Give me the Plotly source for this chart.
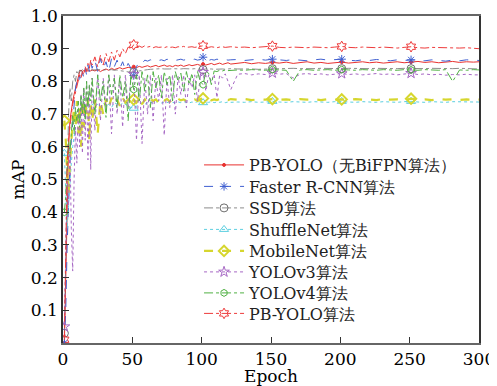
import plotly.graph_objects as go

# Sampled epochs (dense early, sparser on plateau)
epochs = list(range(1, 22)) + list(range(23, 122, 2)) + list(range(126, 297, 5)) + [300]
marker_epochs = [1, 51, 101, 151, 201, 251]

names = ["PB-YOLO（无BiFPN算法）", "Faster R-CNN算法", "SSD算法", "ShuffleNet算法",
         "MobileNet算法", "YOLOv3算法", "YOLOv4算法", "PB-YOLO算法"]

pb_yolo_nobifpn = [
    0.0, 0.2, 0.45, 0.6, 0.68, 0.72, 0.74, 0.76, 0.78, 0.80, 0.82, 0.83, 0.835, 0.83, 0.833, 0.83, 0.835, 0.831, 0.834, 0.832, 0.835,
    0.832, 0.836, 0.83, 0.835, 0.838, 0.834, 0.84, 0.836, 0.838, 0.842,
    0.838, 0.84, 0.843, 0.841, 0.845, 0.842, 0.846, 0.843, 0.845, 0.848,
    0.844, 0.846, 0.849, 0.845, 0.847, 0.85, 0.846, 0.848, 0.845, 0.849,
    0.847, 0.85, 0.846, 0.849, 0.851, 0.848, 0.85, 0.852, 0.849, 0.853,
    0.85, 0.852, 0.855, 0.851, 0.853, 0.856, 0.852, 0.854, 0.857, 0.853,
    0.855, 0.858, 0.854, 0.857, 0.855, 0.858, 0.856, 0.859, 0.855, 0.857,
    0.86, 0.856, 0.858, 0.855, 0.857, 0.859, 0.856, 0.858, 0.86, 0.857,
    0.859, 0.856, 0.858, 0.86, 0.857, 0.859, 0.861, 0.858, 0.86, 0.857,
    0.859, 0.861, 0.858, 0.86, 0.859,
    0.86]

faster_rcnn = [
    0.0, 0.1, 0.3, 0.45, 0.55, 0.62, 0.68, 0.74, 0.78, 0.80, 0.79, 0.82, 0.80, 0.83, 0.81, 0.84, 0.82, 0.85, 0.83, 0.86, 0.84,
    0.865, 0.83, 0.87, 0.84, 0.86, 0.83, 0.87, 0.845, 0.865, 0.84,
    0.86, 0.835, 0.855, 0.84, 0.818, 0.845, 0.86, 0.855, 0.865, 0.862,
    0.866, 0.863, 0.867, 0.864, 0.866, 0.863, 0.868, 0.865, 0.867, 0.864,
    0.866, 0.868, 0.865, 0.867, 0.864, 0.866, 0.868, 0.865, 0.867, 0.874,
    0.866, 0.864, 0.867, 0.865, 0.868, 0.866, 0.864, 0.867, 0.865, 0.866,
    0.867, 0.864, 0.866, 0.868, 0.865, 0.868, 0.866, 0.864, 0.867, 0.865,
    0.863, 0.866, 0.868, 0.865, 0.867, 0.868, 0.865, 0.863, 0.866, 0.864,
    0.867, 0.865, 0.863, 0.866, 0.864, 0.866, 0.865, 0.863, 0.866, 0.864,
    0.862, 0.865, 0.863, 0.866, 0.864,
    0.864]

ssd = [
    0.03, 0.3, 0.55, 0.70, 0.78, 0.74, 0.80, 0.82, 0.80, 0.83, 0.82, 0.835, 0.83, 0.836, 0.834, 0.836, 0.835, 0.836, 0.834, 0.836, 0.835,
    0.836, 0.835, 0.836, 0.834, 0.836, 0.835, 0.836, 0.834, 0.835, 0.833,
    0.831, 0.83, 0.829, 0.828, 0.828, 0.83, 0.832, 0.834, 0.835, 0.836,
    0.837, 0.838, 0.837, 0.838, 0.839, 0.838, 0.837, 0.838, 0.839, 0.838,
    0.837, 0.838, 0.839, 0.838, 0.837, 0.838, 0.839, 0.838, 0.837, 0.836,
    0.838, 0.839, 0.838, 0.837, 0.838, 0.839, 0.838, 0.837, 0.838, 0.839,
    0.838, 0.839, 0.838, 0.837, 0.838, 0.839, 0.838, 0.839, 0.84, 0.839,
    0.838, 0.839, 0.84, 0.839, 0.838, 0.839, 0.84, 0.839, 0.838, 0.839,
    0.84, 0.839, 0.838, 0.839, 0.84, 0.839, 0.838, 0.839, 0.84, 0.839,
    0.838, 0.839, 0.84, 0.839, 0.838,
    0.838]

shufflenet = [
    0.58, 0.45, 0.35, 0.42, 0.5, 0.55, 0.6, 0.64, 0.66, 0.68, 0.70, 0.69, 0.71, 0.70, 0.72, 0.71, 0.72, 0.715, 0.725, 0.72, 0.73,
    0.725, 0.73, 0.72, 0.735, 0.725, 0.73, 0.72, 0.735, 0.73, 0.725,
    0.735, 0.73, 0.725, 0.72, 0.718, 0.725, 0.73, 0.735, 0.73, 0.735,
    0.738, 0.733, 0.736, 0.74, 0.734, 0.737, 0.735, 0.738, 0.736, 0.734,
    0.737, 0.735, 0.738, 0.736, 0.734, 0.737, 0.735, 0.738, 0.736, 0.735,
    0.737, 0.736, 0.738, 0.735, 0.737, 0.736, 0.738, 0.735, 0.737, 0.736,
    0.737, 0.736, 0.738, 0.736, 0.737, 0.739, 0.737, 0.736, 0.738, 0.737,
    0.736, 0.738, 0.737, 0.736, 0.738, 0.739, 0.737, 0.736, 0.738, 0.737,
    0.736, 0.738, 0.737, 0.736, 0.738, 0.739, 0.737, 0.736, 0.738, 0.737,
    0.736, 0.738, 0.737, 0.736, 0.737,
    0.737]

mobilenet = [
    0.68, 0.62, 0.52, 0.46, 0.55, 0.62, 0.68, 0.72, 0.66, 0.74, 0.64, 0.73, 0.60, 0.745, 0.66, 0.74, 0.70, 0.745, 0.62, 0.74, 0.68,
    0.745, 0.64, 0.74, 0.70, 0.745, 0.72, 0.75, 0.73, 0.745, 0.725,
    0.75, 0.735, 0.745, 0.73, 0.745, 0.735, 0.75, 0.73, 0.745, 0.735,
    0.748, 0.74, 0.745, 0.735, 0.748, 0.742, 0.746, 0.738, 0.745, 0.74,
    0.747, 0.742, 0.745, 0.74, 0.746, 0.742, 0.745, 0.74, 0.746, 0.748,
    0.744, 0.746, 0.742, 0.745, 0.743, 0.746, 0.744, 0.745, 0.743, 0.746,
    0.744, 0.746, 0.743, 0.745, 0.744, 0.746, 0.744, 0.745, 0.743, 0.746,
    0.744, 0.745, 0.743, 0.746, 0.744, 0.745, 0.743, 0.746, 0.744, 0.745,
    0.743, 0.746, 0.744, 0.745, 0.743, 0.747, 0.744, 0.745, 0.743, 0.746,
    0.744, 0.745, 0.743, 0.745, 0.744,
    0.744]

yolov3 = [
    0.05, 0.3, 0.5, 0.42, 0.6, 0.35, 0.22, 0.5, 0.66, 0.55, 0.72, 0.6, 0.76, 0.58, 0.78, 0.62, 0.80, 0.56, 0.79, 0.53, 0.81,
    0.65, 0.82, 0.68, 0.81, 0.72, 0.82, 0.64, 0.82, 0.70, 0.81,
    0.66, 0.82, 0.72, 0.81, 0.822, 0.62, 0.82, 0.61, 0.81, 0.70,
    0.82, 0.68, 0.81, 0.74, 0.82, 0.635, 0.81, 0.72, 0.82, 0.70,
    0.815, 0.76, 0.82, 0.72, 0.81, 0.78, 0.82, 0.74, 0.815, 0.828,
    0.77, 0.82, 0.80, 0.822, 0.75, 0.82, 0.81, 0.823, 0.80, 0.775,
    0.822, 0.824, 0.82, 0.823, 0.821, 0.826, 0.822, 0.824, 0.81, 0.822,
    0.824, 0.821, 0.823, 0.82, 0.822, 0.824, 0.821, 0.823, 0.82, 0.822,
    0.824, 0.821, 0.823, 0.82, 0.822, 0.825, 0.821, 0.823, 0.82, 0.822,
    0.819, 0.821, 0.82, 0.822, 0.82,
    0.82]

yolov4 = [
    0.40, 0.45, 0.55, 0.62, 0.58, 0.66, 0.7, 0.64, 0.72, 0.68, 0.74, 0.66, 0.76, 0.7, 0.78, 0.68, 0.80, 0.72, 0.79, 0.74, 0.81,
    0.70, 0.82, 0.74, 0.80, 0.69, 0.82, 0.76, 0.81, 0.72, 0.82,
    0.75, 0.80, 0.68, 0.82, 0.775, 0.82, 0.74, 0.83, 0.77, 0.82,
    0.72, 0.83, 0.78, 0.82, 0.75, 0.83, 0.79, 0.82, 0.74, 0.83,
    0.80, 0.825, 0.77, 0.83, 0.79, 0.825, 0.76, 0.83, 0.80, 0.79,
    0.83, 0.825, 0.79, 0.832, 0.83, 0.834, 0.832, 0.835, 0.833, 0.834,
    0.835, 0.834, 0.836, 0.835, 0.834, 0.836, 0.835, 0.834, 0.80, 0.835,
    0.836, 0.834, 0.835, 0.836, 0.834, 0.836, 0.835, 0.834, 0.836, 0.835,
    0.834, 0.836, 0.835, 0.834, 0.836, 0.835, 0.834, 0.836, 0.835, 0.834,
    0.836, 0.80, 0.835, 0.834, 0.836,
    0.835]

pb_yolo = [
    0.01, 0.35, 0.55, 0.62, 0.67, 0.70, 0.73, 0.75, 0.77, 0.79, 0.80, 0.82, 0.81, 0.83, 0.82, 0.845, 0.83, 0.855, 0.84, 0.865, 0.85,
    0.875, 0.845, 0.88, 0.85, 0.885, 0.86, 0.89, 0.865, 0.895, 0.875,
    0.90, 0.885, 0.905, 0.90, 0.912, 0.906, 0.908, 0.904, 0.909, 0.905,
    0.907, 0.903, 0.906, 0.904, 0.905, 0.903, 0.906, 0.904, 0.905, 0.903,
    0.906, 0.905, 0.907, 0.904, 0.905, 0.906, 0.904, 0.905, 0.906, 0.909,
    0.905, 0.904, 0.906, 0.905, 0.903, 0.905, 0.906, 0.904, 0.905, 0.906,
    0.904, 0.905, 0.903, 0.905, 0.906, 0.908, 0.904, 0.903, 0.905, 0.904,
    0.903, 0.905, 0.904, 0.903, 0.905, 0.907, 0.904, 0.903, 0.905, 0.904,
    0.903, 0.905, 0.904, 0.902, 0.904, 0.906, 0.903, 0.902, 0.904, 0.903,
    0.902, 0.903, 0.902, 0.903, 0.901,
    0.900]

series = [pb_yolo_nobifpn, faster_rcnn, ssd, shufflenet, mobilenet, yolov3, yolov4, pb_yolo]
for s in series:
    assert len(s) == len(epochs), (len(s), len(epochs))

colors = ["#e8312f", "#3f5fd0", "#6e6e6e", "#5ccfe0", "#d6d62e", "#a667c4", "#4fb043", "#ee3b3b"]
dashes = ["solid", "dash", "dashdot", "dot", "dash", "dot", "dashdot", "dashdot"]
widths = [1.0, 1.0, 0.8, 1.0, 2.2, 1.0, 1.0, 1.0]
symbols = ["circle", "asterisk-open", "circle-open", "triangle-up-open", "diamond-open",
           "star-open", "hexagon-open", "hexagram-open"]
msizes = [3, 7, 8, 8, 8, 8, 7, 8]

font_family = "DejaVu Serif"
legend_font = dict(family=font_family, size=16, color="#222")

# One legend per entry so the row spacing can match the reference.
# Plot area spans screen y 16..343 (327 px).
legend_rows_px = [165, 186.5, 208, 229.5, 251, 272, 293, 313.5]

fig = go.Figure()
idx = [epochs.index(e) for e in marker_epochs]
legend_layouts = {}
for k, (name, s, c, d, w, sym, ms) in enumerate(zip(names, series, colors, dashes, widths, symbols, msizes)):
    lname = "legend" if k == 0 else f"legend{k + 1}"
    mline = dict(color=c, width=2 if sym == "diamond-open" else 1)
    fig.add_trace(go.Scatter(x=epochs, y=s, mode="lines", line=dict(color=c, dash=d, width=w),
                             showlegend=False, hoverinfo="skip"))
    fig.add_trace(go.Scatter(x=[epochs[i] for i in idx], y=[s[i] for i in idx], mode="markers",
                             marker=dict(symbol=sym, size=ms, color=c, line=mline),
                             showlegend=False, hoverinfo="skip"))
    fig.add_trace(go.Scatter(x=[None], y=[None], mode="lines+markers", name=name, legend=lname,
                             line=dict(color=c, dash=d, width=w),
                             marker=dict(symbol=sym, size=ms, color=c, line=mline)))
    legend_layouts[lname] = dict(x=0.327, y=(343 - legend_rows_px[k]) / 327,
                                 xanchor="left", yanchor="middle",
                                 bgcolor="rgba(0,0,0,0)", borderwidth=0,
                                 font=legend_font, itemwidth=40)

# The page body has an 8px margin, so the figure is sized/offset to land on the same pixels.
fig.update_layout(
    width=489, height=378,
    margin=dict(l=55, r=18, t=8, b=43, autoexpand=False),
    paper_bgcolor="white", plot_bgcolor="white",
    font=dict(family=font_family, size=17, color="black"),
    showlegend=True,
    xaxis=dict(range=[0, 300], tickvals=[0, 50, 100, 150, 200, 250, 300],
               ticks="inside", ticklen=6, tickcolor="#333", showline=True, linecolor="#666",
               linewidth=1.5, mirror=True, showgrid=False, zeroline=False, automargin=False,
               ticklabeloverflow="allow",
               title=dict(text="Epoch", standoff=6, font=dict(size=17))),
    yaxis=dict(range=[0, 1.0], tickvals=[0.1, 0.2, 0.3, 0.4, 0.5, 0.6, 0.7, 0.8, 0.9, 1.0],
               ticktext=["0.1", "0.2", "0.3", "0.4", "0.5", "0.6", "0.7", "0.8", "0.9", "1.0"],
               ticks="inside", ticklen=6, tickcolor="#333", showline=True, linecolor="#333",
               linewidth=1.5, mirror=True, showgrid=False, zeroline=False, automargin=False,
               ticklabeloverflow="allow",
               title=dict(text="mAP", standoff=4, font=dict(size=17))),
    **legend_layouts,
)

fig.write_html("out.html")
